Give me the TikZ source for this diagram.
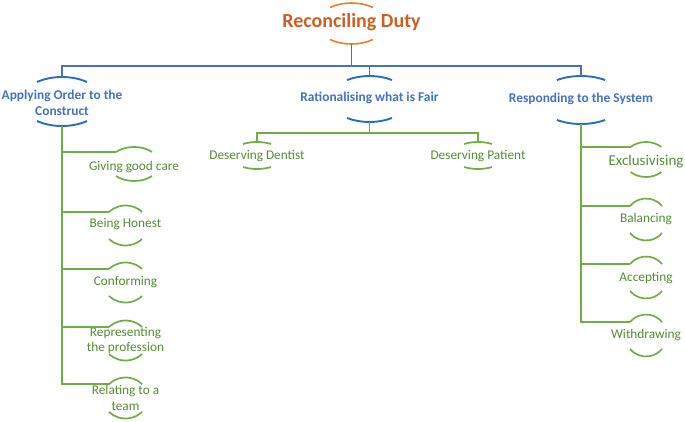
\documentclass[tikz,border=0pt]{standalone}
\usepackage{fontspec}
\setmainfont{Carlito}
\definecolor{ttlorange}{RGB}{204,96,36}
\definecolor{arcorange}{RGB}{237,125,49}
\definecolor{txtblue}{RGB}{68,114,196}
\definecolor{arcblue}{RGB}{38,110,196}
\definecolor{lineblue}{RGB}{68,114,196}
\definecolor{linegreen}{RGB}{112,173,71}
\definecolor{txtgreen}{RGB}{84,142,52}
\newcommand{\capnode}[9]{%
  \node[#8] (#1) at (#2,-#3) {#9};
  \path (#2,-#3) ++(180-#6:#4pt and #5pt) coordinate (#1-tl);
  \path (#2,-#3) ++(180+#6:#4pt and #5pt) coordinate (#1-bl);
  \path (#2,-#3) ++(0,#5) coordinate (#1-t);
  \path (#2,-#3) ++(0,-#5) coordinate (#1-b);
  \draw[#7] (#1-tl) arc[start angle=180-#6, end angle=#6, x radius=#4pt, y radius=#5pt];
  \draw[#7] (#1-bl) arc[start angle=180+#6, end angle=360-#6, x radius=#4pt, y radius=#5pt];
}
\begin{document}
\begin{tikzpicture}[x=1pt,y=1pt,
  titletext/.style={inner sep=0pt, text=ttlorange, font=\fontsize{20}{24}\selectfont\bfseries},
  headtext/.style={inner sep=0pt, align=center, text=txtblue, font=\fontsize{13.4}{16}\selectfont\bfseries},
  leaftext/.style={inner sep=0pt, align=center, text=txtgreen, font=\fontsize{13.3}{15.5}\selectfont},
  bigleaftext/.style={inner sep=0pt, align=center, text=txtgreen, font=\fontsize{15}{17}\selectfont},
  orangearc/.style={draw=arcorange, line width=1.6pt},
  bluearc/.style={draw=arcblue, line width=1.9pt},
  greenarc/.style={draw=linegreen, line width=1.7pt},
  blueconn/.style={draw=lineblue, line width=1.3pt},
  thinconn/.style={draw=linegreen, line width=1.3pt},
  thickconn/.style={draw=linegreen, line width=2.4pt}]
\useasboundingbox (0,0) rectangle (685,-421);
% title
\capnode{T}{351.5}{23.5}{34.4}{20.5}{51.3}{orangearc}{titletext,yshift=1.5pt}{Reconciling Duty}
% level 1
\capnode{ao}{62}{101.5}{41.3}{24.5}{52.7}{bluearc}{headtext,yshift=-1.5pt}{Applying Order to the\\Construct}
\capnode{rf}{369.5}{99}{39.9}{23}{55.7}{bluearc}{headtext,yshift=1pt}{Rationalising what is Fair}
\capnode{rs}{581}{100}{43.4}{24}{56.4}{bluearc}{headtext,yshift=1pt}{Responding to the System}
% rationalising children
\capnode{dd}{257}{155.5}{26.7}{13.5}{58.4}{greenarc}{leaftext,yshift=-0.5pt}{Deserving Dentist}
\capnode{dp}{478}{155.5}{26.7}{13.5}{58.4}{greenarc}{leaftext,yshift=-0.5pt}{Deserving Patient}
% applying children
\capnode{gg}{134}{164}{25.4}{17}{44.9}{greenarc}{leaftext,yshift=-3pt}{Giving good care}
\capnode{bh}{125.5}{225.5}{22.4}{20}{42.5}{greenarc}{leaftext,yshift=1.5pt}{Being Honest}
\capnode{cf}{125.5}{282.5}{22.4}{20}{42.5}{greenarc}{leaftext}{Conforming}
\capnode{rp}{125.5}{340.5}{22.4}{20}{42.5}{greenarc}{leaftext}{Representing\\the profession}
\capnode{rt}{125.5}{398}{22.4}{20.5}{42.5}{greenarc}{leaftext}{Relating to a\\team}
% responding children
\capnode{ex}{646}{159.5}{22}{17.5}{45.6}{greenarc}{bigleaftext,yshift=-2.5pt}{Exclusivising}
\capnode{ba}{646}{219.5}{20.9}{21}{40}{greenarc}{leaftext}{Balancing}
\capnode{ac}{646}{277.5}{20.9}{21}{40}{greenarc}{leaftext,yshift=-0.5pt}{Accepting}
\capnode{wd}{646}{335.5}{20.9}{21}{40}{greenarc}{leaftext,yshift=0.5pt}{Withdrawing}
% blue connectors
\coordinate (J) at (351.5,-66);
\draw[blueconn] (T-b) -- (J);
\draw[blueconn] (ao-t) -- (ao-t |- J) -- (rs-t |- J) -- (rs-t);
\draw[blueconn] (rf-t) -- (rf-t |- J);
% rationalising connectors
\coordinate (K) at (369.5,-133);
\draw[thinconn] (rf-b) -- (K);
\draw[thinconn] (dd-t) |- (K) -| (dp-t);
% applying trunk
\draw[thickconn] (ao-b) |- (gg-tl);
\draw[thickconn] (ao-b) |- (bh-tl);
\draw[thickconn] (ao-b) |- (cf-tl);
\draw[thickconn] (ao-b) |- (rp-tl);
\draw[thickconn] (ao-b) |- (rt-tl);
% responding trunk
\draw[thickconn] (rs-b) |- (ex-tl);
\draw[thickconn] (rs-b) |- (ba-tl);
\draw[thickconn] (rs-b) |- (ac-tl);
\draw[thickconn] (rs-b) |- (wd-tl);
\end{tikzpicture}
\end{document}
